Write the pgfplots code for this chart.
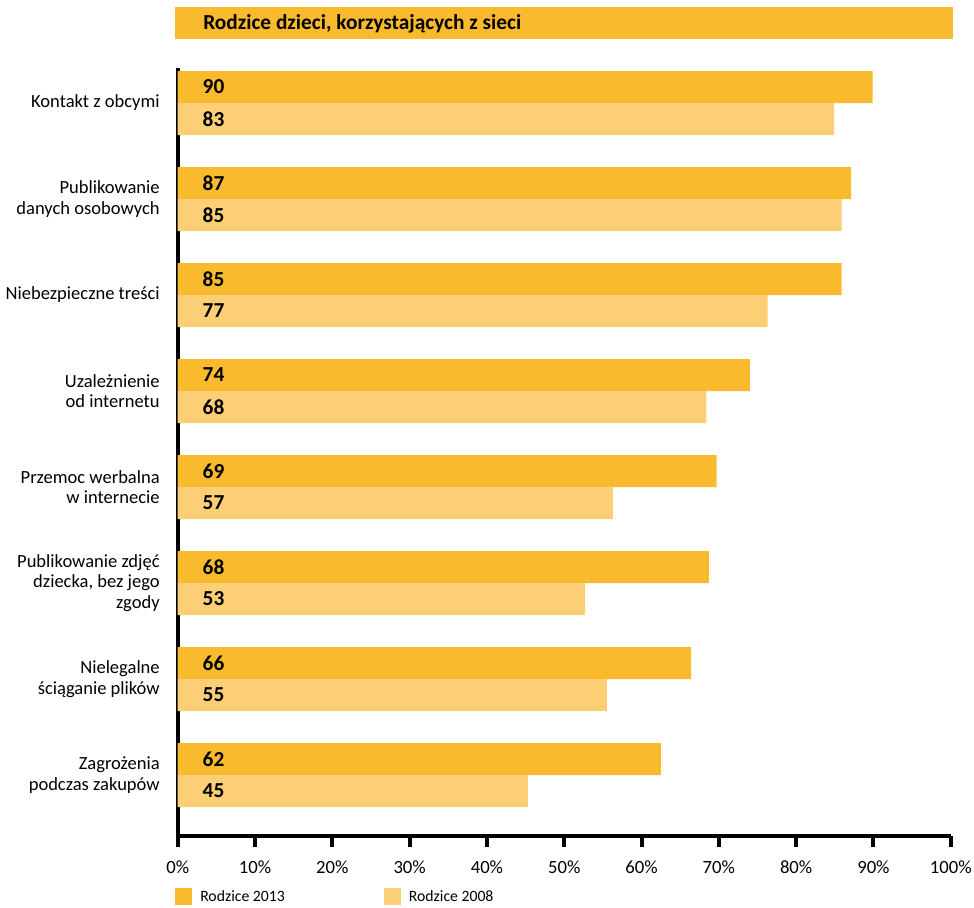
\documentclass[border=0pt]{standalone}
\usepackage{pgfplots}
\pgfplotsset{compat=1.18}
\usepackage{pgfplotstable}
\usepackage{fontspec}
\setmainfont{Carlito}
\definecolor{c13}{RGB}{249,187,45}
\definecolor{c08}{RGB}{252,207,118}
\pgfplotstableread{
y v13 v08 l13 l08
7 89.9 84.9 90 83
6 87.1 85.9 87 85
5 85.9 76.3 85 77
4 74.0 68.4 74 68
3 69.7 56.3 69 57
2 68.7 52.7 68 53
1 66.4 55.5 66 55
0 62.5 45.3 62 45
}\data
\begin{document}
\begin{tikzpicture}
\useasboundingbox (0,0) rectangle (730.5pt,-680.25pt);
% title bar
\fill[c13] (131.25pt,-5.25pt) rectangle (714.75pt,-29.25pt);
\node[anchor=west,inner sep=0pt,font=\fontsize{16}{19}\selectfont\bfseries] at (152.25pt,-17.5pt) {Rodzice dzieci, korzystających z sieci};
\begin{axis}[
  at={(133.3pt,-627pt)}, anchor=south west,
  width=579.75pt, height=576pt, scale only axis,
  xmin=0, xmax=100, ymin=-0.635, ymax=7.365,
  axis x line*=bottom, axis y line*=left,
  axis line style={line width=3pt, black, -},
  xtick={0,10,...,100},
  xticklabel={\pgfmathprintnumber{\tick}\%},
  /pgf/number format/assume math mode=true,
  xticklabel style={font=\fontsize{14}{16}\selectfont},
  x tick style={line width=3pt, black},
  tick align=outside,
  xtick pos=bottom,
  x tick label style={yshift=-7pt},
  major tick length=8pt,
  ytick={0,...,7},
  y tick style={draw=none},
  yticklabels={{Zagrożenia\\podczas zakupów},{Nielegalne\\ściąganie plików},{Publikowanie zdjęć\\dziecka, bez jego\\zgody},{Przemoc werbalna\\w internecie},{Uzależnienie\\od internetu},{Niebezpieczne treści},{Publikowanie\\danych osobowych},{Kontakt z obcymi}},
  yticklabel style={align=right, font=\fontsize{13.9}{15.6}\selectfont, xshift=-2pt},
  clip=false,
]
\addplot[xbar, bar width=0.3333, bar shift=0.16667, fill=c13, draw=none] table[x=v13, y=y] {\data};
\addplot[xbar, bar width=0.3333, bar shift=-0.16667, fill=c08, draw=none] table[x=v08, y=y] {\data};
\addplot[draw=none, nodes near coords, nodes near coords align=horizontal, point meta=explicit,
  every node near coord/.append style={font=\fontsize{16}{18}\selectfont\bfseries, inner sep=0pt, text=black}]
  table[x expr=3.2, y expr=\thisrow{y}+0.16667, meta=l13] {\data};
\addplot[draw=none, nodes near coords, nodes near coords align=horizontal, point meta=explicit,
  every node near coord/.append style={font=\fontsize{16}{18}\selectfont\bfseries, inner sep=0pt, text=black}]
  table[x expr=3.2, y expr=\thisrow{y}-0.16667, meta=l08] {\data};
\end{axis}
% legend
\fill[c13] (131.25pt,-666pt) rectangle (144pt,-678.75pt);
\node[anchor=west,inner sep=0pt,font=\fontsize{11.8}{14}\selectfont] at (150pt,-672.4pt) {Rodzice 2013};
\fill[c08] (288pt,-666pt) rectangle (300.75pt,-678.75pt);
\node[anchor=west,inner sep=0pt,font=\fontsize{11.8}{14}\selectfont] at (306.5pt,-672.4pt) {Rodzice 2008};
\end{tikzpicture}
\end{document}
